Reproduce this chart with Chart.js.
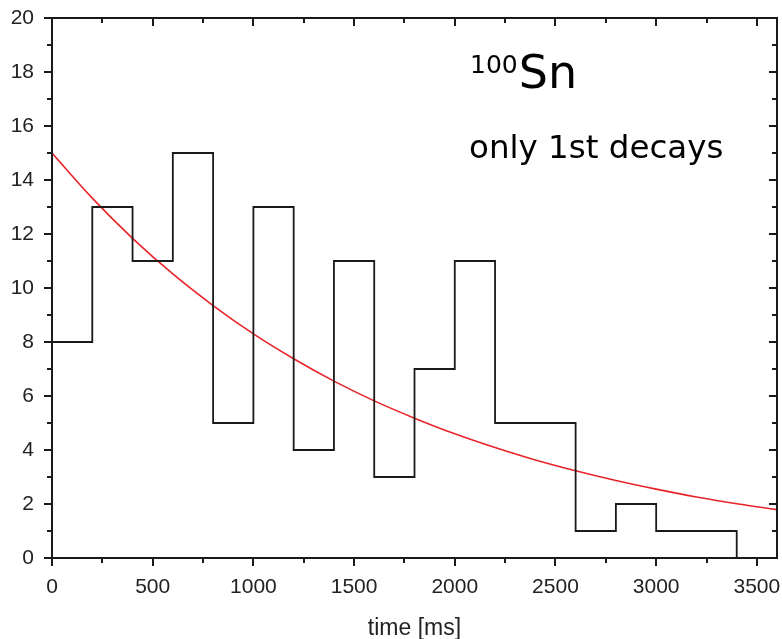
<!DOCTYPE html>
<html>
<head>
<meta charset="utf-8">
<script src="https://cdn.jsdelivr.net/npm/chart.js@4"></script>
<style>
  html, body { margin: 0; padding: 0; background: #fff; }
  #wrap { width: 782px; height: 639px; }
</style>
</head>
<body>
<div id="wrap"><canvas id="decayChart"></canvas></div>
<script>
//
// data
//
const binStart = [0, 200, 400, 600, 800, 1000, 1200, 1400, 1600, 1800, 2000, 2200, 2400, 2600, 2800, 3000, 3200, 3400];
const counts   = [8, 13, 11, 15, 5, 13, 4, 11, 3, 7, 11, 5, 5, 1, 2, 1, 1, 0];

const fitTime  = [0, 200, 400, 600, 800, 1000, 1200, 1400, 1600, 1800, 2000, 2200, 2400, 2600, 2800, 3000, 3200, 3400, 3600];
const fitValue = [15.0, 13.33, 11.84, 10.52, 9.35, 8.3, 7.38, 6.55, 5.82, 5.18, 4.6, 4.09, 3.63, 3.23, 2.87, 2.55, 2.26, 2.01, 1.79];

const xTicks = [0, 500, 1000, 1500, 2000, 2500, 3000, 3500];
const yTicks = [0, 2, 4, 6, 8, 10, 12, 14, 16, 18, 20];

const histPoints = binStart.map((t, i) => ({x: t, y: counts[i]}));
const fitPoints = fitTime.map((t, i) => ({x: t, y: fitValue[i]}));

// frame with ticks: outward on bottom/left, inward on top/right
const framePlugin = {
  id: 'frame',
  afterDraw(chart) {
    const {ctx, chartArea: a, scales: {x, y}} = chart;
    ctx.save();
    ctx.strokeStyle = '#1a1a1a';
    ctx.lineWidth = 2;
    ctx.strokeRect(a.left, a.top, a.right - a.left, a.bottom - a.top);
    ctx.beginPath();
    for (let v = 0; v <= 3600; v += 250) {
      const px = Math.round(x.getPixelForValue(v));
      const len = v % 500 === 0 ? 8 : 5;
      ctx.moveTo(px, a.bottom); ctx.lineTo(px, a.bottom + len);
      ctx.moveTo(px, a.top); ctx.lineTo(px, a.top + len);
    }
    for (let v = 0; v <= 20; v += 1) {
      const py = Math.round(y.getPixelForValue(v));
      const len = v % 2 === 0 ? 8 : 5;
      ctx.moveTo(a.left, py); ctx.lineTo(a.left - len, py);
      ctx.moveTo(a.right, py); ctx.lineTo(a.right - len, py);
    }
    ctx.stroke();

    // annotation
    ctx.fillStyle = '#000';
    ctx.textBaseline = 'alphabetic';
    ctx.textAlign = 'left';
    ctx.font = '25px "DejaVu Sans"';
    ctx.fillText('100', 470, 73);
    const w = ctx.measureText('100').width;
    ctx.font = '46px "DejaVu Sans"';
    ctx.fillText('Sn', 470 + w + 1, 88);
    ctx.font = '32.5px "DejaVu Sans"';
    ctx.fillText('only 1st decays', 469, 158);
    ctx.restore();
  }
};

const decayChart = new Chart('decayChart', {
  type: 'line',
  data: {
    datasets: [
      {
        label: 'counts',
        data: histPoints,
        stepped: true,
        borderColor: '#1a1a1a',
        borderWidth: 1.8,
        pointRadius: 0,
        fill: false
      },
      {
        label: 'fit',
        data: fitPoints,
        borderColor: '#e8242a',
        borderWidth: 1.6,
        pointRadius: 0,
        tension: 0.4,
        fill: false
      }
    ]
  },
  options: {
    responsive: true,
    maintainAspectRatio: false,
    animation: false,
    layout: {padding: {top: 18, right: 5, left: 0, bottom: 0}},
    plugins: {legend: {display: false}, tooltip: {enabled: false}},
    scales: {
      x: {
        type: 'linear',
        min: 0,
        max: 3600,
        afterBuildTicks: (s) => { s.ticks = xTicks.map(v => ({value: v})); },
        afterFit: (s) => { s.height = 81; s.paddingLeft = 0; s.paddingRight = 0; },
        grid: {display: false},
        border: {display: false},
        ticks: {color: '#222', font: {family: 'Liberation Sans', size: 21}, padding: 9, maxRotation: 0,
                callback: (v) => String(v)},
        title: {display: true, text: 'time [ms]', color: '#222', font: {family: 'Liberation Sans', size: 23}, padding: {top: 0, bottom: -3}}
      },
      y: {
        min: 0,
        max: 20,
        afterBuildTicks: (s) => { s.ticks = yTicks.map(v => ({value: v})); },
        afterFit: (s) => { s.width = 52; s.paddingTop = 0; s.paddingBottom = 0; },
        grid: {display: false},
        border: {display: false},
        ticks: {color: '#222', font: {family: 'Liberation Sans', size: 21}, padding: 10,
                callback: (v) => String(v)}
      }
    }
  },
  plugins: [framePlugin]
});
</script>
</body>
</html>
